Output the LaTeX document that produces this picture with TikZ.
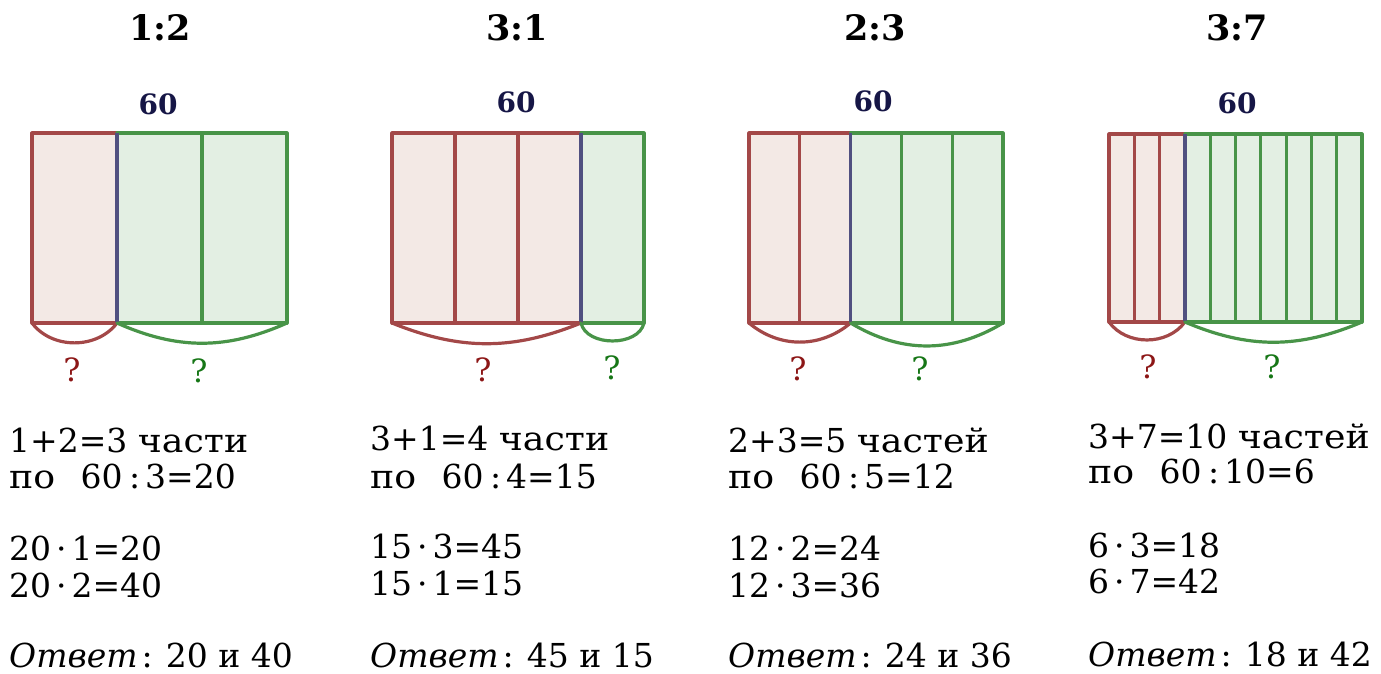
\documentclass[tikz,border=0pt]{standalone}
\usepackage{fontspec}
\setmainfont{DejaVu Serif}
\newfontfamily\cyr[FakeStretch=1.1]{DejaVu Serif}
\usetikzlibrary{calc}

\definecolor{redline}{RGB}{163,72,72}
\definecolor{redfill}{RGB}{243,233,229}
\definecolor{greenline}{RGB}{72,148,72}
\definecolor{greenfill}{RGB}{227,239,227}
\definecolor{blueline}{RGB}{80,80,128}
\definecolor{redq}{RGB}{140,22,22}
\definecolor{greenq}{RGB}{22,118,22}
\definecolor{navy}{RGB}{22,22,70}

% spacing helpers for the worked calculations
\newcommand\dv{\hspace{0.2em}:\hspace{0.15em}}
\newcommand\ml{\hspace{0.15em}·\hspace{0.15em}}
\newcommand\answer[1]{{\itshape Ответ\/}\hspace{0.12em}:\hspace{0.4em}#1}

\tikzset{
  redseg/.style={draw=redline, line width=3.2pt, line cap=round, line join=round},
  greenseg/.style={draw=greenline, line width=3.2pt, line cap=round, line join=round},
  blueseg/.style={draw=blueline, line width=3.2pt},
  title/.style={font=\fontsize{35}{35}\selectfont\bfseries, inner sep=0pt, anchor=base},
  total/.style={font=\fontsize{28}{28}\selectfont\bfseries, text=navy, inner sep=0pt, anchor=base},
  qred/.style={font=\fontsize{32}{32}\selectfont, text=redq, inner sep=0pt, anchor=base},
  qgreen/.style={font=\fontsize{32}{32}\selectfont, text=greenq, inner sep=0pt, anchor=base},
  calcline/.style={font=\fontsize{33}{33}\selectfont, inner sep=0pt, anchor=base west},
}

% #1 left x, #2 right x, #3 top y, #4 bottom y, #5 red parts, #6 all parts,
% #7 bend of the red brace, #8 bend of the green brace, #9 name prefix
\newcommand\barpanel[9]{%
  \pgfmathsetmacro\pw{(#2-#1)/#6}%
  \pgfmathsetmacro\xs{#1+#5*\pw}%
  \coordinate (#9-tl) at (#1,#3);
  \coordinate (#9-bl) at (#1,#4);
  \coordinate (#9-ts) at (\xs,#3);
  \coordinate (#9-bs) at (\xs,#4);
  \coordinate (#9-tr) at (#2,#3);
  \coordinate (#9-br) at (#2,#4);
  \fill[redfill] (#9-tl) rectangle (#9-bs);
  \fill[greenfill] (#9-ts) rectangle (#9-br);
  % inner dividers
  \pgfmathtruncatemacro\nlast{#6-1}%
  \foreach \i in {1,...,\nlast}{%
    \ifnum\i<#5\relax
      \draw[redseg] ({#1+\i*\pw},#3) -- ({#1+\i*\pw},#4);
    \else\ifnum\i>#5\relax
      \draw[greenseg] ({#1+\i*\pw},#3) -- ({#1+\i*\pw},#4);
    \fi\fi
  }
  \draw[redseg] (#9-ts) -- (#9-tl) -- (#9-bl) -- (#9-bs);
  \draw[greenseg] (#9-ts) -- (#9-tr) -- (#9-br) -- (#9-bs);
  \draw[blueseg] (#9-ts) -- (#9-bs);
  \draw[redseg] (#9-bl) to[bend right=#7] (#9-bs);
  \draw[greenseg] (#9-bs) to[bend right=#8] (#9-br);
}

\begin{document}
\begin{tikzpicture}[x=1pt,y=-1pt]
\useasboundingbox (0,0) rectangle (1381,673);

% ---- 1:2 ----
\node[title] (t1) at (160,40) {1:2};
\node[total] (s1) at (158,114) {60};
\barpanel{32}{287}{133}{323}{1}{3}{53}{24}{p1}
\node[qred] (qa1) at (72,381) {?};
\node[qgreen] (qb1) at (199,382) {?};
\node[calcline] (a1) at (9,452) {1+2=3 {\cyr части}};
\node[calcline] (b1) at (9,488) {{\cyr по}\hspace{0.45em} 60\dv 3=20};
\node[calcline] (c1) at (9,560) {20\ml 1=20};
\node[calcline] (d1) at (9,597) {20\ml 2=40};
\node[calcline] (e1) at (9,667) {\answer{20 и 40}};

% ---- 3:1 ----
\node[title] (t2) at (517,40) {3:1};
\node[total] (s2) at (516,112) {60};
\barpanel{392}{644}{133}{323}{3}{4}{22}{77}{p2}
\node[qred] (qa2) at (483,381) {?};
\node[qgreen] (qb2) at (612,379) {?};
\node[calcline] (a2) at (370,450) {3+1=4 {\cyr части}};
\node[calcline] (b2) at (370,488) {{\cyr по}\hspace{0.45em} 60\dv 4=15};
\node[calcline] (c2) at (370,558) {15\ml 3=45};
\node[calcline] (d2) at (370,595) {15\ml 1=15};
\node[calcline] (e2) at (370,667) {\answer{45 и 15}};

% ---- 2:3 ----
\node[title] (t3) at (875,40) {2:3};
\node[total] (s3) at (873,111) {60};
\barpanel{749}{1003}{133}{323}{2}{5}{40}{31}{p3}
\node[qred] (qa3) at (798,380) {?};
\node[qgreen] (qb3) at (920,380) {?};
\node[calcline] (a3) at (728,452) {2+3=5 {\cyr частей}};
\node[calcline] (b3) at (728,488) {{\cyr по}\hspace{0.45em} 60\dv 5=12};
\node[calcline] (c3) at (728,560) {12\ml 2=24};
\node[calcline] (d3) at (728,597) {12\ml 3=36};
\node[calcline] (e3) at (728,667) {\answer{24 и 36}};

% ---- 3:7 ----
\node[title] (t4) at (1237,40) {3:7};
\node[total] (s4) at (1237,113) {60};
\barpanel{1109}{1362}{134}{322}{3}{10}{54}{23}{p4}
\node[qred] (qa4) at (1148,378) {?};
\node[qgreen] (qb4) at (1272,378) {?};
\node[calcline] (a4) at (1088,448) {3+7=10 {\cyr частей}};
\node[calcline] (b4) at (1088,483) {{\cyr по}\hspace{0.45em} 60\dv 10=6};
\node[calcline] (c4) at (1088,557) {6\ml 3=18};
\node[calcline] (d4) at (1088,593) {6\ml 7=42};
\node[calcline] (e4) at (1088,666) {\answer{18 и 42}};
\end{tikzpicture}
\end{document}
